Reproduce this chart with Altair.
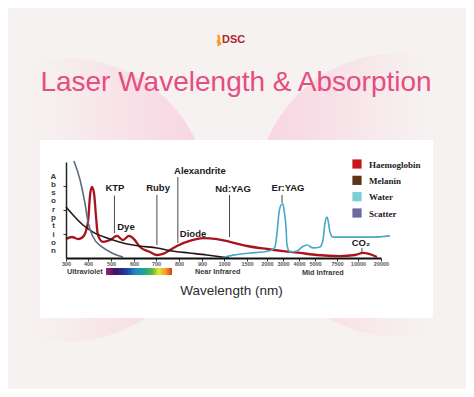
import altair as alt
import pandas as pd

# ---------------- data ----------------
tick_values = [300, 400, 500, 600, 700, 800, 900, 1000, 1500, 2000, 3000, 4000, 5000, 7500, 10000, 20000]
series_names = ["Haemoglobin", "Melanin", "Water", "Scatter"]

haemo_wl = [300, 327, 355, 377, 400, 409, 417, 426, 435, 443, 465, 496, 526, 552, 578, 600, 627, 673,
            704, 730, 761, 791, 846, 905, 968, 1130, 1500, 2000, 3000, 4063, 5227, 7857, 9643, 12174,
            14783, 18261]
haemo_abs = [0.79, 0.875, 0.79, 0.875, 1.5, 2.625, 2.96, 2.71, 1.71, 0.96, 0.67, 0.75, 0.92, 0.75, 0.92,
             0.79, 0.46, 0.25, 0.125, 0.17, 0.33, 0.5, 0.71, 0.83, 0.79, 0.67, 0.5, 0.375, 0.29, 0.21,
             0.125, 0.08, 0.125, 0.21, 0.17, 0.04]

melanin_wl = [300, 332, 377, 422, 483, 552, 626, 704, 770, 843, 922, 991, 1109]
melanin_abs = [2.125, 1.79, 1.375, 1.08, 0.83, 0.625, 0.5, 0.42, 0.29, 0.21, 0.125, 0.04, 0.0]

water_wl = [991, 1196, 1575, 1900, 2313, 2500, 2625, 2750, 2875, 3000, 3063, 3188, 3250, 3438, 3875,
            4188, 4500, 4875, 5568, 5909, 6136, 6364, 6477, 6705, 7045, 8214, 10870, 16522, 23913]
water_abs = [0, 0.12, 0.21, 0.25, 0.33, 0.46, 1.04, 1.88, 2.21, 2.25, 2.0, 1.29, 0.54, 0.25, 0.29,
             0.46, 0.54, 0.42, 0.46, 0.75, 1.46, 1.71, 1.58, 1.08, 0.87, 0.87, 0.87, 0.87, 0.92]

scatter_wl = [336, 364, 386, 400, 422, 461, 504, 552]
scatter_abs = [4.04, 3.25, 2.29, 1.5, 0.875, 0.46, 0.21, 0.04]

laser_names = ["KTP", "Ruby", "Alexandrite", "Nd:YAG", "Er:YAG", "CO₂"]
laser_wl = [515, 704, 795, 1120, 2940, 11700]
laser_top = [2.6, 2.63, 3.375, 2.625, 2.625, 0.42]
laser_bottom = [1.04, 0.54, 0.625, 0.875, 2.29, 0.25]

label_names = ["KTP", "Dye", "Ruby", "Alexandrite", "Diode", "Nd:YAG", "Er:YAG", "CO₂"]
label_wl = [517, 565, 709, 891, 861, 1196, 3313, 11300]
label_abs = [2.92, 1.29, 2.92, 3.625, 1.0, 2.875, 2.92, 0.625]

# ---------------- styling ----------------
tick_px = [0, 22, 45, 68, 90, 113, 136, 158, 181, 201, 217, 233, 249, 271, 292, 315]
line_colors = ["#a8141d", "#231815", "#4ba7c6", "#5d6b82"]
legend_colors = ["#c8161d", "#5e3418", "#7ccfd9", "#6b69a2"]
W, H = 315, 96
OX, OY = 66, 162  # page position of plot origin


def px(v):
    return v - OX


def py(v):
    return v - OY


frames = []
for name, wl, ab in [("Haemoglobin", haemo_wl, haemo_abs), ("Melanin", melanin_wl, melanin_abs),
                     ("Water", water_wl, water_abs), ("Scatter", scatter_wl, scatter_abs)]:
    frames.append(pd.DataFrame({"series": name, "wl": wl, "a": ab}))
curves = pd.concat(frames, ignore_index=True)

lasers = pd.DataFrame({"name": laser_names, "wl": laser_wl, "top": laser_top, "bottom": laser_bottom})
labels = pd.DataFrame({"name": label_names, "wl": label_wl, "a": label_abs})
legend_df = pd.DataFrame({"component": series_names})
dummy = pd.DataFrame({"k": [0]})

xscale = alt.Scale(domain=tick_values, range=tick_px, zero=False, nice=False)
yscale = alt.Scale(domain=[0, 4], nice=False, zero=True)

xaxis = alt.Axis(values=tick_values, format="d", labelFontSize=5.5, labelFont="Liberation Sans",
                 labelFontWeight="bold", labelColor="#555", labelPadding=0.5, tickSize=3,
                 tickColor="#333", domainColor="#111", domainWidth=2, grid=False,
                 labelOverlap=False, labelFlush=False, title="Wavelength (nm)",
                 titleFont="Liberation Sans", titleFontSize=13.5, titleFontWeight="normal",
                 titleColor="#2b2b2b", titleX=165, titleY=32, titleBaseline="middle",
                 titleAlign="center", zindex=2)
yaxis = alt.Axis(values=[1, 2, 3], labels=False, tickSize=3, tickColor="#333", domainColor="#222",
                 domainWidth=1.5, grid=False, title=list("Absorption"), titleAngle=0, titleX=-13,
                 titleY=10, titleBaseline="top", titleAlign="center", titleFontSize=8,
                 titleFontWeight="bold", titleColor="#3a3a3a", titleLineHeight=8.3,
                 titleFont="Liberation Sans", zindex=2)

# ---------------- decorations ----------------
left_lobe = alt.Chart(dummy).mark_point(
    shape="circle", filled=True, size=80425, opacity=1, strokeWidth=0,
    fill=alt.Gradient(gradient="linear", x1=0, x2=1, y1=0, y2=0,
                      stops=[alt.GradientStop(color="rgba(248,212,224,0)", offset=0.38),
                             alt.GradientStop(color="#f8d4e0", offset=1)])
).encode(x=alt.value(px(67)), y=alt.value(py(200)))

right_lobe = alt.Chart(dummy).mark_point(
    shape="circle", filled=True, size=80425, opacity=1, strokeWidth=0,
    fill=alt.Gradient(gradient="linear", x1=0, x2=1, y1=0, y2=0,
                      stops=[alt.GradientStop(color="#f8d4e0", offset=0),
                             alt.GradientStop(color="rgba(248,212,224,0)", offset=0.6)])
).encode(x=alt.value(px(398)), y=alt.value(py(195)))

panel = alt.Chart(dummy).mark_rect(color="white").encode(
    x=alt.value(px(40)), x2=alt.value(px(433)), y=alt.value(py(140)), y2=alt.value(py(318)))

title = alt.Chart(dummy).mark_text(
    text="Laser Wavelength & Absorption", font="Liberation Sans", fontSize=28, color="#e64d80",
    align="center", baseline="alphabetic").encode(x=alt.value(px(236)), y=alt.value(py(91)))

logo = alt.Chart(dummy).mark_text(
    text="DSC", font="Liberation Sans", fontSize=11, fontWeight="bold", color="#b3262b",
    align="left", baseline="middle").encode(x=alt.value(px(222)), y=alt.value(py(40)))

flame = alt.Chart(dummy).mark_point(
    shape="M0,-1C0.7,-0.4 0.1,0 0.5,0.45C0.7,0.8 0.2,1 -0.2,1C0.2,0.6 -0.5,0.3 -0.1,0C0.1,-0.3 -0.3,-0.6 0,-1Z",
    filled=True, size=150, opacity=1, color="#f0a02a", strokeWidth=0
).encode(x=alt.value(px(218)), y=alt.value(py(40)))

region_style = dict(font="Liberation Sans", fontSize=7.3, fontWeight="bold", color="#3a3a3a",
                    align="left", baseline="middle")
uv = alt.Chart(dummy).mark_text(text="Ultraviolet", **region_style).encode(
    x=alt.value(px(67)), y=alt.value(py(272)))
nir = alt.Chart(dummy).mark_text(text="Near Infrared", **region_style).encode(
    x=alt.value(px(195)), y=alt.value(py(272)))
mir = alt.Chart(dummy).mark_text(text="Mid Infrared", **region_style).encode(
    x=alt.value(px(302)), y=alt.value(py(273)))

spectrum = alt.Chart(dummy).mark_rect(
    fill=alt.Gradient(gradient="linear", x1=0, x2=1, y1=0, y2=0, stops=[
        alt.GradientStop(color="#a3206f", offset=0),
        alt.GradientStop(color="#3a1466", offset=0.14),
        alt.GradientStop(color="#1c3c9c", offset=0.3),
        alt.GradientStop(color="#1e8cc4", offset=0.45),
        alt.GradientStop(color="#1fa48e", offset=0.58),
        alt.GradientStop(color="#5cb83c", offset=0.7),
        alt.GradientStop(color="#e8e838", offset=0.8),
        alt.GradientStop(color="#f2a024", offset=0.9),
        alt.GradientStop(color="#e0381e", offset=1)])
).encode(x=alt.value(px(106)), x2=alt.value(px(172)), y=alt.value(py(268)), y2=alt.value(py(275)))

# ---------------- data layers ----------------
stroke_enc = alt.Stroke("series:N", scale=alt.Scale(domain=series_names, range=line_colors), legend=None)

haemo_line = alt.Chart(curves).transform_filter(alt.datum.series == "Haemoglobin").mark_line(
    interpolate="monotone", strokeWidth=2.3).encode(
    x=alt.X("wl:Q", scale=xscale, axis=xaxis), y=alt.Y("a:Q", scale=yscale, axis=yaxis),
    stroke=stroke_enc, detail="series:N")

other_lines = alt.Chart(curves).transform_filter(alt.datum.series != "Haemoglobin").mark_line(
    interpolate="monotone", strokeWidth=1.6).encode(
    x=alt.X("wl:Q", scale=xscale, axis=xaxis), y=alt.Y("a:Q", scale=yscale, axis=yaxis),
    stroke=stroke_enc, detail="series:N")

# legend drawn from the series list through a point scale on yOffset
legend_offset = alt.YOffset("component:N",
                            scale=alt.Scale(type="point", domain=series_names, range=[0, 49], padding=0))
legend_swatches = alt.Chart(legend_df).mark_square(size=85, opacity=1).encode(
    x=alt.value(px(357)), y=alt.value(py(164)), yOffset=legend_offset,
    color=alt.Color("component:N", scale=alt.Scale(domain=series_names, range=legend_colors),
                    legend=None))
legend_labels = alt.Chart(legend_df).mark_text(
    font="Liberation Serif", fontSize=9, fontWeight="bold", color="#222", align="left",
    baseline="middle").encode(
    x=alt.value(px(369)), y=alt.value(py(164.5)), yOffset=legend_offset, text="component:N")

rules = alt.Chart(lasers).mark_rule(color="#4a4a4a", strokeWidth=1).encode(
    x=alt.X("wl:Q", scale=xscale, axis=xaxis), y=alt.Y("top:Q", scale=yscale, axis=yaxis),
    y2="bottom:Q")

texts = alt.Chart(labels).mark_text(font="Liberation Sans", fontSize=9.5, fontWeight="bold",
                                    color="#1a1a1a", baseline="middle").encode(
    x=alt.X("wl:Q", scale=xscale, axis=xaxis), y=alt.Y("a:Q", scale=yscale, axis=yaxis),
    text="name:N")

chart = alt.layer(
    left_lobe, right_lobe, panel, title, logo, flame,
    haemo_line, other_lines, rules, texts, legend_swatches, legend_labels,
    uv, nir, mir, spectrum
).properties(
    width=W, height=H,
    padding={"left": 58, "top": 154, "right": 85, "bottom": 131},
    autosize=alt.AutoSizeParams(type="none")
).configure(background="#f6f2f1").configure_view(stroke=None).configure_axis(
    labelOverlap=False
)

chart.save("out.html", embed_options={"renderer": "svg", "actions": False})
